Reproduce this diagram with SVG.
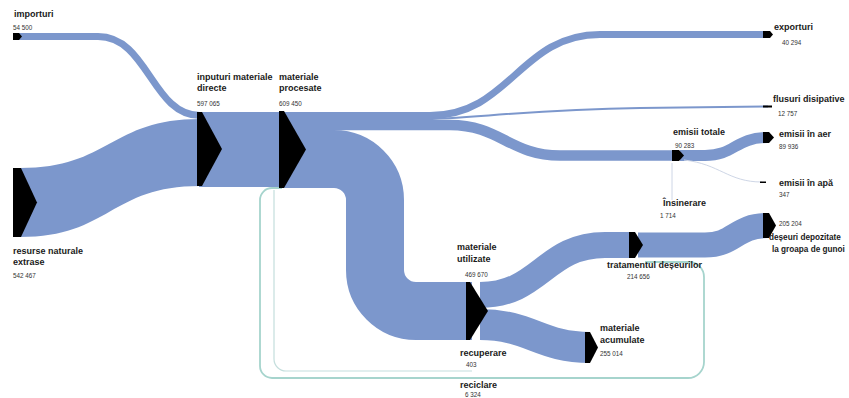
<svg xmlns="http://www.w3.org/2000/svg" width="849" height="398" viewBox="0 0 849 398">
<style>
.flow{fill:none;stroke:#7C97CC}
.band{fill:#7C97CC;stroke:none}
.loop{fill:none;stroke:#A6D4CD;stroke-width:1.8}
.faint{fill:none;stroke:#CED6E6;stroke-width:1}
.node{fill:#000}
.lbl{font-family:"Liberation Sans",Arial,sans-serif;font-size:9px;font-weight:bold;fill:#1a1a1a}
.val{font-family:"Liberation Sans",Arial,sans-serif;font-size:6.3px;fill:#333}
</style>
<rect width="849" height="398" fill="#fff"/>
<g id="connectors">
  <path class="loop" d="M645,262 H689 A15,15 0 0 1 704,277 V362 A16,16 0 0 1 688,378 H272 A12,12 0 0 1 260,366 V200 A12,12 0 0 1 272,188 H282"/>
  <path class="loop" style="stroke:#C4DEDD;stroke-width:1.2" d="M472,371 H286 A12,12 0 0 1 274,359 V190"/>
  <path class="flow" stroke-width="7" d="M18,36.5 H98 C148,36.5 152,115.5 200,115.5"/>
  <path class="band" d="M20,168 C110,168 110,119 200,119 V186 C110,186 110,237 20,237 Z"/>
  <rect class="band" x="199" y="112" width="86" height="75"/>
  <path class="flow" stroke-width="7" d="M282,115.5 H430 C510,115.5 520,34.5 600,34.5 H768"/>
  <path class="flow" stroke-width="2" d="M282,119 H420 C470,119 520,110 640,108 L768,106.5"/>
  <path class="flow" stroke-width="10.5" d="M282,125 H450 C500,125 510,155.5 560,155.5 H678"/>
  <path class="flow" stroke-width="58" d="M282,159 H334 A41,41 0 0 1 375,200 V270 A41,41 0 0 0 416,311 H472"/>
  <path class="flow" stroke-width="26" d="M480,295 C540,295 545,245 605,245 H635"/>
  <path class="flow" stroke-width="31" d="M480,324.5 C530,324.5 540,347.5 590,347.5"/>
  <path class="flow" stroke-width="25" d="M638,245 H705 C735,245 735,225.5 768,225.5"/>
  <path class="flow" stroke-width="11" d="M680,155.5 H705 C735,155.5 735,137.5 768,137.5"/>
  <path class="faint" d="M684,160 C720,164 728,182 762,182"/>
  <path class="faint" d="M672,200 V163"/>
</g>
<g id="importuri">
  <polygon class="node" points="13,33 19,33 22,36.5 19,40 13,40"/>
  <text class="lbl" x="14" y="17">importuri</text>
  <text class="val" x="13" y="30">54 500</text>
</g>
<g id="resurse">
  <polygon class="node" points="13,168 21,168 37,202.5 21,237 13,237"/>
  <text class="lbl" x="13" y="254">resurse naturale</text>
  <text class="lbl" x="13" y="265">extrase</text>
  <text class="val" x="13" y="278">542 467</text>
</g>
<g id="inputuri">
  <polygon class="node" points="197,112 202,112 222,149 202,186 197,186"/>
  <text class="lbl" x="197" y="80">inputuri materiale</text>
  <text class="lbl" x="197" y="91">directe</text>
  <text class="val" x="197" y="106">597 065</text>
</g>
<g id="procesate">
  <polygon class="node" points="279,111 284,111 306,149.5 284,188 279,188"/>
  <text class="lbl" x="279" y="80">materiale</text>
  <text class="lbl" x="279" y="91">procesate</text>
  <text class="val" x="279" y="106">609 450</text>
</g>
<g id="exporturi">
  <polygon class="node" points="763,31 770,31 773,34.5 770,38 763,38"/>
  <text class="lbl" x="774" y="30">exporturi</text>
  <text class="val" x="782" y="45">40 294</text>
</g>
<g id="disipative">
  <rect class="node" x="763" y="105.5" width="9" height="2"/>
  <text class="lbl" x="773" y="102">flusuri disipative</text>
  <text class="val" x="778" y="116">12 757</text>
</g>
<g id="emisii-totale">
  <polygon class="node" points="672,150 679,150 684,155.5 679,161 672,161"/>
  <text class="lbl" x="673" y="135">emisii totale</text>
  <text class="val" x="675" y="148">90 283</text>
</g>
<g id="emisii-aer">
  <polygon class="node" points="763,132 769,132 774,137.5 769,143 763,143"/>
  <text class="lbl" x="779" y="137">emisii în aer</text>
  <text class="val" x="779" y="149">89 936</text>
</g>
<g id="emisii-apa">
  <rect class="node" x="760" y="181.5" width="6" height="1.5"/>
  <text class="lbl" x="779" y="186">emisii în apă</text>
  <text class="val" x="779" y="197">347</text>
</g>
<g id="insinerare">
  <text class="lbl" x="663" y="206">Însinerare</text>
  <text class="val" x="660" y="218">1 714</text>
</g>
<g id="depozitate">
  <polygon class="node" points="763,213 769,213 776,225.5 769,238 763,238"/>
  <text class="val" x="779" y="226">205 204</text>
  <text class="lbl" x="769" y="240" style="font-size:8.2px">deșeuri depozitate</text>
  <text class="lbl" x="772" y="252" style="font-size:8.2px">la groapa de gunoi</text>
</g>
<g id="tratamentul">
  <polygon class="node" points="629,232 635,232 643,245 635,258 629,258"/>
  <text class="lbl" x="607" y="268">tratamentul deșeurilor</text>
  <text class="val" x="627" y="279">214 656</text>
</g>
<g id="utilizate">
  <polygon class="node" points="466,282 470,282 488,311 470,340 466,340"/>
  <text class="lbl" x="457" y="250">materiale</text>
  <text class="lbl" x="457" y="262">utilizate</text>
  <text class="val" x="465" y="277">469 670</text>
</g>
<g id="acumulate">
  <polygon class="node" points="585,332 590,332 598,347.5 590,363 585,363"/>
  <text class="lbl" x="600" y="331">materiale</text>
  <text class="lbl" x="600" y="343">acumulate</text>
  <text class="val" x="600" y="356">255 014</text>
</g>
<g id="recuperare">
  <text class="lbl" x="460" y="356">recuperare</text>
  <text class="val" x="466" y="367">403</text>
</g>
<g id="reciclare">
  <text class="lbl" x="460" y="388">reciclare</text>
  <text class="val" x="465" y="397">6 324</text>
</g>
</svg>
